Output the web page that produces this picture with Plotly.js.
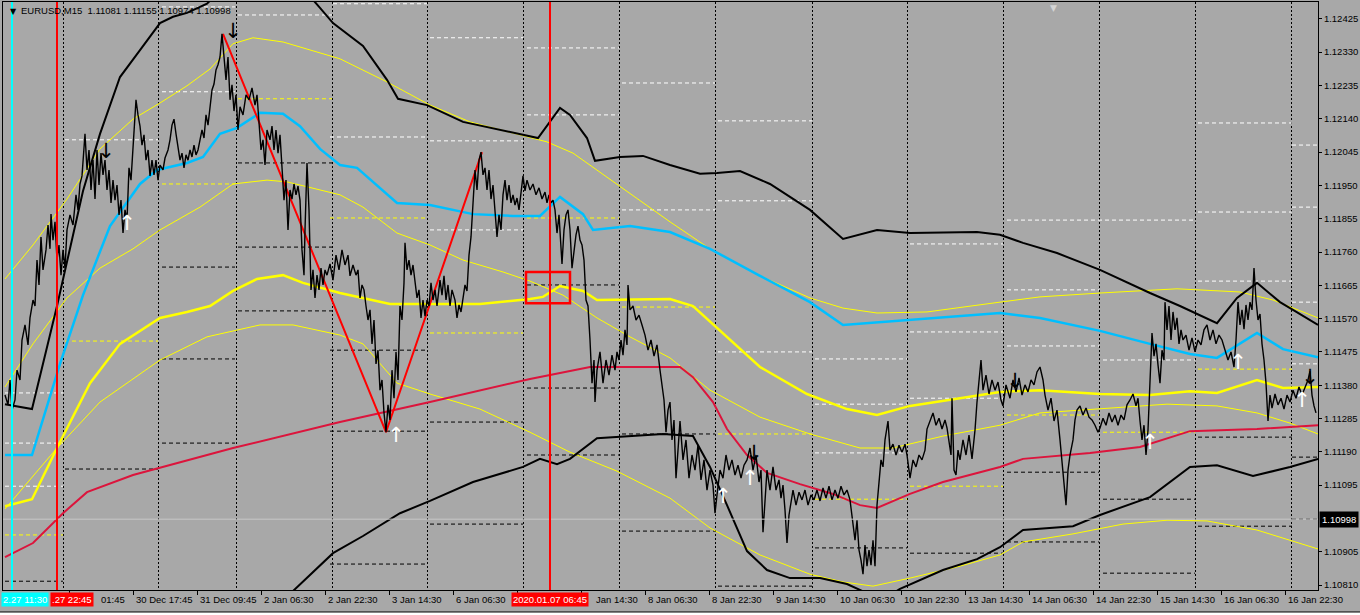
<!DOCTYPE html>
<html>
<head>
<meta charset="utf-8">
<script src="https://cdn.plot.ly/plotly-3.0.1.min.js"></script>
<style>
  html, body { margin: 0; padding: 0; background: #a8a8a8; }
  #chart { width: 1360px; height: 615px; }
</style>
</head>
<body>
<div id="chart"></div>
<script>
// EURUSD M15, bar index -> price
var priceLine = [[5,1.11352],[8,1.11324],[10,1.11395],[12,1.11309],[15,1.11338],[17,1.11423],[20,1.11395],[22,1.11509],[25,1.11552],[28,1.11495],[30,1.11572],[33,1.11623],[35,1.11606],[37,1.11737],[39,1.11666],[41,1.11803],[43,1.11709],[46,1.11766],[48,1.11837],[50,1.11769],[51,1.11868],[53,1.11794],[55,1.11846],[57,1.11737],[59,1.11780],[61,1.11694],[63,1.11766],[65,1.11714],[67,1.11823],[70,1.11866],[73,1.11837],[76,1.11923],[78,1.11880],[80,1.11954],[82,1.11977],[84,1.12051],[85,1.12097],[87,1.11994],[89,1.12051],[91,1.11937],[93,1.12022],[95,1.11911],[97,1.12051],[99,1.11951],[101,1.12042],[103,1.11980],[105,1.12022],[107,1.11937],[109,1.11994],[111,1.11900],[113,1.11965],[115,1.11908],[117,1.11951],[119,1.11866],[121,1.11908],[123,1.11814],[125,1.11880],[127,1.11851],[129,1.12000],[131,1.11965],[133,1.12065],[136,1.12194],[138,1.12151],[140,1.12119],[142,1.12065],[144,1.12094],[146,1.12022],[148,1.12051],[150,1.11977],[152,1.12022],[154,1.11980],[156,1.12022],[158,1.11965],[160,1.12008],[163,1.11994],[165,1.12028],[168,1.12051],[170,1.12080],[172,1.12122],[174,1.12139],[176,1.12097],[178,1.12065],[180,1.12022],[182,1.12042],[184,1.12000],[186,1.12037],[188,1.12022],[190,1.12051],[192,1.12031],[194,1.12065],[196,1.12037],[198,1.12051],[200,1.12080],[202,1.12108],[204,1.12085],[206,1.12151],[208,1.12122],[210,1.12165],[212,1.12222],[214,1.12239],[216,1.12279],[218,1.12294],[220,1.12316],[222,1.12382],[224,1.12308],[226,1.12251],[228,1.12316],[230,1.12194],[232,1.12237],[234,1.12162],[236,1.12208],[238,1.12108],[240,1.12174],[243,1.12151],[246,1.12208],[249,1.12194],[252,1.12228],[255,1.12179],[257,1.12208],[259,1.12131],[261,1.12051],[263,1.12080],[265,1.12008],[267,1.12108],[270,1.12080],[272,1.12119],[274,1.12051],[276,1.12108],[278,1.12042],[280,1.12094],[282,1.11994],[284,1.11908],[286,1.11965],[288,1.11823],[290,1.11937],[292,1.11911],[294,1.11954],[296,1.11923],[298,1.11948],[300,1.11908],[302,1.11766],[304,1.11694],[305,1.11823],[307,1.12014],[309,1.11880],[311,1.11652],[313,1.11709],[315,1.11629],[317,1.11694],[319,1.11652],[321,1.11714],[323,1.11666],[325,1.11709],[327,1.11694],[330,1.11726],[333,1.11680],[336,1.11751],[339,1.11709],[342,1.11766],[345,1.11723],[348,1.11751],[350,1.11692],[353,1.11723],[356,1.11694],[358,1.11709],[360,1.11629],[362,1.11666],[364,1.11652],[366,1.11606],[368,1.11566],[370,1.11595],[372,1.11498],[374,1.11566],[376,1.11441],[378,1.11480],[380,1.11366],[382,1.11395],[384,1.11301],[386,1.11246],[388,1.11324],[390,1.11281],[392,1.11423],[394,1.11343],[396,1.11475],[398,1.11395],[400,1.11606],[402,1.11566],[404,1.11672],[405,1.11786],[407,1.11709],[409,1.11737],[411,1.11694],[413,1.11723],[415,1.11672],[417,1.11629],[419,1.11652],[421,1.11572],[423,1.11623],[425,1.11577],[427,1.11623],[429,1.11606],[431,1.11672],[433,1.11623],[435,1.11652],[437,1.11606],[440,1.11680],[442,1.11637],[444,1.11692],[446,1.11623],[448,1.11666],[450,1.11606],[452,1.11652],[455,1.11623],[457,1.11572],[459,1.11609],[461,1.11589],[463,1.11623],[465,1.11666],[467,1.11649],[469,1.11751],[471,1.11803],[473,1.11911],[475,1.11994],[477,1.11937],[479,1.12022],[481,1.12045],[483,1.11980],[485,1.12000],[487,1.11937],[489,1.11994],[491,1.11911],[493,1.11951],[495,1.11868],[497,1.11803],[499,1.11866],[501,1.11823],[503,1.11923],[505,1.11965],[507,1.11908],[509,1.11951],[511,1.11900],[513,1.11923],[515,1.11894],[517,1.11914],[519,1.11880],[521,1.11937],[523,1.11977],[525,1.11934],[527,1.11965],[530,1.11937],[533,1.11954],[536,1.11923],[539,1.11943],[542,1.11911],[545,1.11931],[547,1.11900],[549,1.11923],[551,1.11900],[553,1.11908],[555,1.11880],[557,1.11814],[559,1.11866],[561,1.11766],[562,1.11726],[564,1.11823],[566,1.11866],[568,1.11880],[570,1.11823],[572,1.11714],[574,1.11766],[576,1.11809],[578,1.11834],[580,1.11794],[582,1.11780],[584,1.11737],[586,1.11623],[588,1.11606],[590,1.11509],[592,1.11386],[594,1.11452],[595,1.11332],[597,1.11423],[600,1.11475],[603,1.11386],[606,1.11452],[609,1.11409],[612,1.11466],[615,1.11423],[617,1.11475],[619,1.11452],[621,1.11509],[623,1.11466],[625,1.11538],[627,1.11495],[628,1.11666],[630,1.11595],[633,1.11606],[636,1.11566],[639,1.11580],[642,1.11552],[645,1.11523],[648,1.11480],[651,1.11509],[654,1.11463],[657,1.11495],[660,1.11423],[662,1.11386],[664,1.11338],[666,1.11246],[668,1.11309],[670,1.11332],[672,1.11224],[674,1.11281],[676,1.11115],[678,1.11195],[680,1.11278],[683,1.11167],[686,1.11224],[689,1.11115],[692,1.11181],[695,1.11138],[698,1.11209],[701,1.11110],[704,1.11167],[707,1.11081],[710,1.11138],[713,1.11095],[715,1.11015],[717,1.11067],[720,1.11138],[723,1.11115],[726,1.11181],[729,1.11138],[732,1.11167],[735,1.11124],[738,1.11152],[741,1.11115],[744,1.11152],[747,1.11167],[750,1.11201],[753,1.11138],[756,1.11181],[759,1.11104],[761,1.11138],[763,1.10961],[765,1.11053],[767,1.11138],[770,1.11081],[773,1.11147],[776,1.11081],[779,1.11110],[781,1.11058],[783,1.11095],[785,1.11024],[787,1.10930],[789,1.11010],[791,1.11053],[793,1.11081],[796,1.11038],[799,1.11075],[802,1.11053],[805,1.11081],[808,1.11038],[811,1.11067],[814,1.11053],[817,1.11081],[820,1.11050],[823,1.11087],[826,1.11058],[829,1.11092],[832,1.11053],[835,1.11081],[838,1.11058],[841,1.11092],[844,1.11067],[847,1.11081],[850,1.11053],[853,1.10973],[855,1.10938],[857,1.10995],[859,1.10910],[861,1.10881],[863,1.10841],[865,1.10924],[867,1.10864],[869,1.10910],[871,1.10867],[873,1.10938],[875,1.10864],[877,1.11038],[879,1.11115],[881,1.11167],[883,1.11147],[885,1.11224],[888,1.11278],[890,1.11195],[893,1.11212],[896,1.11181],[899,1.11209],[902,1.11189],[905,1.11212],[907,1.11181],[910,1.11115],[913,1.11167],[916,1.11147],[919,1.11181],[922,1.11167],[925,1.11195],[927,1.11255],[930,1.11281],[933,1.11301],[936,1.11266],[939,1.11286],[942,1.11255],[945,1.11281],[947,1.11258],[949,1.11224],[951,1.11181],[952,1.11343],[954,1.11138],[956,1.11124],[958,1.11195],[960,1.11167],[963,1.11224],[966,1.11181],[969,1.11238],[972,1.11170],[975,1.11252],[977,1.11332],[979,1.11395],[981,1.11452],[983,1.11366],[986,1.11409],[989,1.11355],[992,1.11395],[995,1.11366],[998,1.11389],[1001,1.11338],[1003,1.11321],[1006,1.11381],[1010,1.11343],[1013,1.11395],[1016,1.11361],[1019,1.11401],[1022,1.11352],[1025,1.11381],[1028,1.11361],[1031,1.11395],[1034,1.11381],[1037,1.11418],[1040,1.11432],[1043,1.11395],[1045,1.11352],[1048,1.11309],[1051,1.11343],[1054,1.11278],[1057,1.11309],[1060,1.11224],[1062,1.11167],[1064,1.11110],[1066,1.11038],[1068,1.11138],[1070,1.11181],[1073,1.11224],[1075,1.11281],[1077,1.11309],[1080,1.11321],[1083,1.11295],[1086,1.11315],[1089,1.11289],[1092,1.11281],[1095,1.11266],[1098,1.11246],[1100,1.11258],[1103,1.11286],[1106,1.11266],[1109,1.11301],[1112,1.11275],[1115,1.11295],[1118,1.11266],[1121,1.11295],[1124,1.11281],[1127,1.11324],[1130,1.11338],[1133,1.11355],[1136,1.11321],[1138,1.11343],[1140,1.11278],[1142,1.11224],[1144,1.11266],[1146,1.11181],[1148,1.11252],[1150,1.11395],[1152,1.11529],[1154,1.11463],[1156,1.11498],[1158,1.11438],[1160,1.11386],[1162,1.11480],[1164,1.11452],[1165,1.11617],[1167,1.11538],[1169,1.11606],[1171,1.11509],[1173,1.11589],[1175,1.11538],[1177,1.11572],[1179,1.11498],[1181,1.11538],[1183,1.11509],[1186,1.11523],[1189,1.11480],[1192,1.11515],[1195,1.11475],[1198,1.11509],[1201,1.11495],[1204,1.11538],[1207,1.11552],[1210,1.11509],[1213,1.11538],[1216,1.11498],[1219,1.11523],[1222,1.11509],[1225,1.11480],[1228,1.11452],[1231,1.11475],[1234,1.11432],[1236,1.11509],[1238,1.11617],[1240,1.11552],[1242,1.11595],[1244,1.11540],[1246,1.11609],[1248,1.11566],[1250,1.11617],[1252,1.11595],[1254,1.11714],[1256,1.11623],[1258,1.11566],[1260,1.11583],[1262,1.11498],[1264,1.11452],[1266,1.11386],[1268,1.11278],[1270,1.11352],[1272,1.11315],[1275,1.11355],[1278,1.11324],[1281,1.11343],[1284,1.11312],[1287,1.11352],[1290,1.11332],[1293,1.11366],[1296,1.11343],[1299,1.11375],[1302,1.11352],[1305,1.11372],[1308,1.11395],[1310,1.11420],[1312,1.11352],[1314,1.11321],[1316,1.11301]];

// envelope / bands (black, thick)
var bandUpper = [[5,1.11326],[32,1.11312],[57,1.11606],[83,1.11934],[100,1.12097],[120,1.12259],[140,1.12336],[160,1.12413],[173,1.12431],[187,1.12442],[207,1.12468],[240,1.12565],[270,1.12579],[300,1.12522],[320,1.12456],[333,1.12413],[363,1.12348],[387,1.12251],[398,1.12197],[427,1.12179],[463,1.12131],[483,1.12119],[517,1.12097],[538,1.12085],[560,1.12171],[570,1.12151],[587,1.12085],[595,1.12020],[620,1.12031],[643,1.12034],[670,1.12008],[680,1.12000],[700,1.11983],[717,1.11985],[740,1.11991],[770,1.11954],[810,1.11880],[843,1.11797],[877,1.11823],[910,1.11814],[977,1.11817],[1000,1.11809],[1023,1.11786],[1057,1.11757],[1100,1.11709],[1150,1.11643],[1180,1.11606],[1217,1.11557],[1237,1.11629],[1257,1.11672],[1280,1.11617],[1293,1.11595],[1318,1.11552]];
var bandLower = [[200,1.10653],[250,1.10724],[293,1.10793],[333,1.10901],[363,1.10950],[400,1.11015],[430,1.11050],[473,1.11104],[523,1.11147],[540,1.11170],[557,1.11155],[570,1.11170],[597,1.11229],[663,1.11241],[693,1.11235],[710,1.11147],[727,1.11038],[747,1.10907],[767,1.10853],[790,1.10830],[820,1.10830],[847,1.10813],[867,1.10787],[885,1.10773],[900,1.10799],[943,1.10853],[977,1.10884],[1000,1.10918],[1023,1.10967],[1073,1.10978],[1100,1.11010],[1150,1.11061],[1190,1.11147],[1217,1.11152],[1253,1.11121],[1290,1.11147],[1318,1.11170]];

// moving averages
var maCyan = [[5,1.11181],[32,1.11181],[60,1.11441],[83,1.11637],[110,1.11834],[140,1.11954],[157,1.11994],[187,1.12014],[203,1.12031],[220,1.12097],[237,1.12114],[260,1.12157],[283,1.12154],[300,1.12119],[320,1.12054],[340,1.12008],[357,1.12000],[397,1.11900],[430,1.11894],[473,1.11868],[513,1.11863],[540,1.11863],[560,1.11917],[583,1.11868],[593,1.11823],[630,1.11834],[670,1.11817],[710,1.11769],[760,1.11692],[810,1.11617],[843,1.11552],[910,1.11566],[1000,1.11586],[1040,1.11572],[1100,1.11535],[1150,1.11498],[1190,1.11469],[1217,1.11458],[1257,1.11529],[1283,1.11483],[1318,1.11460]];
var maYellow = [[5,1.11035],[32,1.11055],[57,1.11201],[90,1.11386],[120,1.11498],[160,1.11572],[187,1.11589],[210,1.11606],[233,1.11649],[257,1.11683],[283,1.11694],[303,1.11672],[340,1.11643],[390,1.11612],[430,1.11612],[480,1.11612],[530,1.11626],[543,1.11632],[560,1.11663],[583,1.11649],[597,1.11623],[670,1.11626],[693,1.11606],[727,1.11518],[760,1.11432],[807,1.11355],[847,1.11312],[877,1.11295],[910,1.11321],[960,1.11343],[1000,1.11361],[1040,1.11366],[1100,1.11355],[1150,1.11352],[1190,1.11363],[1217,1.11358],[1257,1.11395],[1283,1.11372],[1318,1.11375]];
var maCrimson = [[5,1.10890],[33,1.10930],[63,1.11015],[87,1.11075],[133,1.11124],[233,1.11201],[340,1.11275],[430,1.11332],[530,1.11398],[590,1.11432],[680,1.11432],[693,1.11403],[713,1.11332],[727,1.11255],[747,1.11181],[767,1.11130],[800,1.11098],[833,1.11070],[860,1.11038],[877,1.11030],[910,1.11070],[943,1.11104],[1000,1.11147],[1023,1.11170],[1090,1.11187],[1140,1.11204],[1190,1.11249],[1257,1.11255],[1318,1.11266]];

// thin yellow channel lines
var chanOuter = [[5,1.11683],[33,1.11780],[67,1.11911],[100,1.12054],[133,1.12139],[160,1.12185],[187,1.12234],[210,1.12282],[233,1.12354],[253,1.12371],[283,1.12359],[317,1.12331],[340,1.12311],[387,1.12245],[430,1.12179],[470,1.12131],[517,1.12097],[547,1.12074],[573,1.12042],[617,1.11954],[670,1.11846],[710,1.11769],[760,1.11692],[810,1.11629],[843,1.11600],[877,1.11586],[927,1.11589],[1000,1.11617],[1040,1.11632],[1100,1.11643],[1177,1.11655],[1240,1.11646],[1273,1.11623],[1318,1.11572]];
var chanUpper = [[5,1.11375],[33,1.11498],[67,1.11629],[100,1.11714],[133,1.11769],[160,1.11823],[200,1.11888],[233,1.11954],[267,1.11965],[287,1.11960],[340,1.11923],[363,1.11888],[397,1.11814],[430,1.11780],[463,1.11737],[503,1.11703],[530,1.11677],[563,1.11637],[597,1.11572],[630,1.11518],[670,1.11458],[710,1.11366],[760,1.11289],[810,1.11241],[860,1.11201],[893,1.11201],[943,1.11235],[1000,1.11266],[1040,1.11301],[1100,1.11312],[1167,1.11326],[1217,1.11321],[1257,1.11301],[1290,1.11272],[1318,1.11241]];
var chanLower = [[5,1.11027],[57,1.11201],[100,1.11332],[160,1.11452],[207,1.11518],[260,1.11552],[293,1.11552],[340,1.11523],[363,1.11498],[397,1.11386],[430,1.11355],[480,1.11312],[530,1.11246],[570,1.11189],[617,1.11135],[670,1.11058],[710,1.10973],[760,1.10896],[810,1.10841],[843,1.10819],[873,1.10807],[910,1.10830],[960,1.10864],[1000,1.10896],[1023,1.10933],[1073,1.10956],[1123,1.10984],[1167,1.10995],[1207,1.10993],[1257,1.10967],[1318,1.10913]];

// zigzag swing points
var zigzag = [[223,1.12382],[386,1.11246],[482,1.12045]];

// fractal arrows
var arrowsDown = [[106,1.12042],[233,1.12385],[754,1.11181],[1015,1.11386],[1310,1.11398]];
var arrowsUp = [[127,1.11837],[396,1.11232],[723,1.11058],[750,1.11110],[1150,1.11212],[1238,1.11441],[1302,1.11332]];

// session levels: [first bar, last bar, price]
var levelsWhite = [[162,235,1.12459],[238,332,1.12436],[333,427,1.12468],[430,523,1.12371],[527,619,1.12342],[622,715,1.12242],[162,235,1.12217],[65,158,1.12080],[527,619,1.12151],[330,427,1.12088],[430,523,1.12077],[718,812,1.12134],[718,812,1.11906],[622,715,1.11880],[910,1003,1.11783],[430,523,1.11823],[910,1003,1.11532],[718,812,1.11475],[815,907,1.11455],[910,1003,1.11343],[815,907,1.11326],[815,907,1.11187],[5,63,1.11358],[5,63,1.11215],[5,63,1.11092],[1198,1292,1.12128],[1292,1318,1.12065],[1292,1318,1.11888],[1198,1292,1.11874],[1007,1195,1.11851],[1198,1292,1.11677],[1007,1099,1.11652],[1292,1318,1.11617],[1007,1099,1.11492],[1103,1195,1.11452],[1292,1318,1.11441]];
var levelsYellow = [[238,332,1.12197],[162,235,1.11954],[65,158,1.11506],[5,63,1.10953],[330,427,1.11857],[527,619,1.11857],[622,715,1.11603],[430,523,1.11529],[718,812,1.11241],[815,907,1.11055],[910,1003,1.11092],[1198,1292,1.11426],[1007,1099,1.11295],[1103,1195,1.11246]];
var levelsBlack = [[238,332,1.12014],[238,332,1.11774],[162,235,1.11717],[238,332,1.11592],[162,235,1.11455],[162,235,1.11215],[65,158,1.11141],[5,63,1.10821],[527,619,1.11666],[330,427,1.11480],[527,619,1.11372],[430,523,1.11275],[330,427,1.11249],[622,715,1.11241],[527,619,1.11181],[430,523,1.10984],[622,715,1.10964],[330,427,1.10870],[815,907,1.10916],[910,1003,1.10901],[718,812,1.10807],[1198,1292,1.11232],[1292,1318,1.11175],[1007,1099,1.11132],[1103,1195,1.11055],[1292,1318,1.10998],[1198,1292,1.10978],[1007,1099,1.10933],[1103,1195,1.10844]];

// chart objects (vertical lines, their visible time tags, the box)
var vLineBars = [12, 57, 550];
var vLineTags = ['2.27 11:30', '.27 22:45', '2020.01.07 06:45'];
var boxBars = [526, 570];
var boxPrices = [1.11614, 1.11703];
var bidPrice = 1.10998;

// axes
var gridBars = [63, 158, 236, 332, 427, 523, 619, 715, 812, 907, 1003, 1099, 1195, 1291];
var tickBars = [69, 133, 197, 261, 325, 389, 453, 517, 581, 645, 709, 773, 837, 901, 965, 1029, 1093, 1157, 1221, 1285];
// labels as they show on the time scale ('' where a tag hides it)
var tickText = ['01:45', '30 Dec 17:45', '31 Dec 09:45', '2 Jan 06:30', '2 Jan 22:30', '3 Jan 14:30', '6 Jan 06:30', '', 'Jan 14:30', '8 Jan 06:30', '8 Jan 22:30', '9 Jan 14:30', '10 Jan 06:30', '10 Jan 22:30', '13 Jan 14:30', '14 Jan 06:30', '14 Jan 22:30', '15 Jan 14:30', '16 Jan 06:30', '16 Jan 22:30'];
var priceTicks = [1.12425, 1.12330, 1.12235, 1.12140, 1.12045, 1.11950, 1.11855, 1.11760, 1.11665, 1.11570, 1.11475, 1.11380, 1.11285, 1.11190, 1.11095, 1.10905, 1.10810];
var titleText = 'EURUSD,M15  1.11081 1.11155 1.10974 1.10998';

var BG = '#a8a8a8';
var FONT = 'Liberation Sans, Arial, sans-serif';
var FS = 9.5;

function lineTrace(rows, color, width) {
  return {
    x: rows.map(function (r) { return r[0]; }),
    y: rows.map(function (r) { return r[1]; }),
    mode: 'lines', line: { color: color, width: width }, hoverinfo: 'skip'
  };
}

function levelTrace(rows, color) {
  var xs = [], ys = [];
  rows.forEach(function (r) {
    xs.push(r[0], r[1], null);
    ys.push(r[2], r[2], null);
  });
  return { x: xs, y: ys, mode: 'lines', line: { color: color, width: 1, dash: '4px,3px' }, hoverinfo: 'skip' };
}

function arrowTrace(rows, glyph, color) {
  return {
    x: rows.map(function (r) { return r[0]; }),
    y: rows.map(function (r) { return r[1]; }),
    mode: 'text', text: rows.map(function () { return glyph; }),
    textfont: { family: 'DejaVu Sans', size: 21, color: color },
    textposition: 'middle center', hoverinfo: 'skip'
  };
}

var firstBar = priceLine[0][0];
var lastBar = 1318;

var data = [
  levelTrace(levelsBlack, '#000000'),
  levelTrace(levelsYellow, '#ffff00'),
  levelTrace(levelsWhite, '#ffffff'),
  { x: [firstBar - 2, lastBar], y: [bidPrice, bidPrice], xaxis: 'x2', mode: 'lines',
    line: { color: '#c8c8c8', width: 1 }, hoverinfo: 'skip' },
  lineTrace(chanOuter, '#ffff00', 1),
  lineTrace(chanUpper, '#ffff00', 1),
  lineTrace(chanLower, '#ffff00', 1),
  lineTrace(maCrimson, '#dc143c', 2),
  lineTrace(maYellow, '#ffff00', 2.5),
  lineTrace(maCyan, '#00bfff', 2.5),
  lineTrace(bandUpper, '#000000', 2),
  lineTrace(bandLower, '#000000', 2),
  lineTrace(zigzag, '#ff0000', 2),
  lineTrace(priceLine, '#000000', 1.4),
  arrowTrace(arrowsDown, '↓', '#000000'),
  arrowTrace(arrowsUp, '↑', '#ffffff')
];

var shapes = [];
var vColors = ['#00ffff', '#ff0000', '#ff0000'];
vLineBars.forEach(function (b, i) {
  shapes.push({ type: 'line', xref: 'x', yref: 'paper', x0: b, x1: b, y0: 0, y1: 1,
    line: { color: vColors[i], width: 2 } });
});
shapes.push({ type: 'rect', xref: 'x', yref: 'y', x0: boxBars[0], x1: boxBars[1],
  y0: boxPrices[0], y1: boxPrices[1], line: { color: '#ff0000', width: 2.5 } });
// window strip under the time scale
shapes.push({ type: 'rect', xref: 'paper', yref: 'paper', x0: -0.01, x1: 1.04, y0: -0.0374, y1: -0.05,
  fillcolor: '#ffffff', line: { color: '#000000', width: 1 } });

var annotations = [];
annotations.push({ xref: 'paper', yref: 'paper', x: 0.004, y: 1, xanchor: 'left', yanchor: 'top',
  yshift: -3, text: '▼', showarrow: false, font: { family: 'DejaVu Sans', size: 8, color: '#000' } });
annotations.push({ xref: 'paper', yref: 'paper', x: 0.0125, y: 1, xanchor: 'left', yanchor: 'top',
  yshift: -1, text: titleText, showarrow: false, font: { family: FONT, size: FS, color: '#000' } });
annotations.push({ xref: 'x', yref: 'paper', x: 1053, y: 1, xanchor: 'center', yanchor: 'top',
  yshift: 1, text: '▼', showarrow: false, font: { family: 'DejaVu Sans', size: 9, color: '#d4d4d4' } });

tickBars.forEach(function (b, i) {
  if (!tickText[i]) return;
  var shift = (i === 0) ? 30 : (i === 8 ? 13 : 1);
  annotations.push({ xref: 'x', yref: 'paper', x: b, y: 0, xanchor: 'left', yanchor: 'top',
    xshift: shift, yshift: -2, text: tickText[i], showarrow: false,
    font: { family: FONT, size: FS, color: '#000' } });
});
// vertical line tags
annotations.push({ xref: 'paper', yref: 'paper', x: 0, y: 0, xanchor: 'left', yanchor: 'top',
  xshift: -2, yshift: -2, text: vLineTags[0], showarrow: false, bgcolor: vColors[0], borderpad: 1,
  font: { family: FONT, size: FS, color: '#ffffff' } });
annotations.push({ xref: 'x', yref: 'paper', x: vLineBars[1], y: 0, xanchor: 'left', yanchor: 'top',
  xshift: -7, yshift: -2, text: vLineTags[1], showarrow: false, bgcolor: vColors[1], borderpad: 1,
  font: { family: FONT, size: FS, color: '#ffffff' } });
annotations.push({ xref: 'x', yref: 'paper', x: vLineBars[2], y: 0, xanchor: 'center', yanchor: 'top',
  yshift: -2, text: vLineTags[2], showarrow: false, bgcolor: vColors[2], borderpad: 1,
  font: { family: FONT, size: FS, color: '#ffffff' } });
annotations.push({ xref: 'paper', yref: 'y', x: 1, y: bidPrice, xanchor: 'left', yanchor: 'middle',
  xshift: 1, text: bidPrice.toFixed(5), showarrow: false, bgcolor: '#000000', borderpad: 2,
  font: { family: FONT, size: FS, color: '#ffffff' } });

var layout = {
  width: 1360, height: 615,
  margin: { l: 3, r: 42, t: 2, b: 25 },
  paper_bgcolor: BG, plot_bgcolor: BG,
  showlegend: false,
  font: { family: FONT, size: FS, color: '#000' },
  xaxis: {
    range: [3, 1318], tickvals: gridBars, showticklabels: false, ticks: '',
    showgrid: true, gridcolor: '#000000', gridwidth: 1, griddash: '2px,2px',
    showline: true, mirror: true, linecolor: '#000000', linewidth: 1, zeroline: false
  },
  xaxis2: {
    overlaying: 'x', anchor: 'y', side: 'bottom', range: [3, 1318],
    tickvals: tickBars, ticks: 'outside', ticklen: 4, tickcolor: '#000000',
    showticklabels: false, showgrid: false, zeroline: false
  },
  yaxis: {
    range: [1.10796, 1.12473], side: 'right',
    tickvals: priceTicks, ticktext: priceTicks.map(function (v) { return v.toFixed(5); }),
    ticks: 'outside', ticklen: 3, tickcolor: '#000000',
    tickfont: { family: FONT, size: FS, color: '#000' },
    showgrid: false, showline: true, mirror: true, linecolor: '#000000', linewidth: 1, zeroline: false
  },
  shapes: shapes,
  annotations: annotations
};

Plotly.newPlot('chart', data, layout, { staticPlot: true, displayModeBar: false });
</script>
</body>
</html>
